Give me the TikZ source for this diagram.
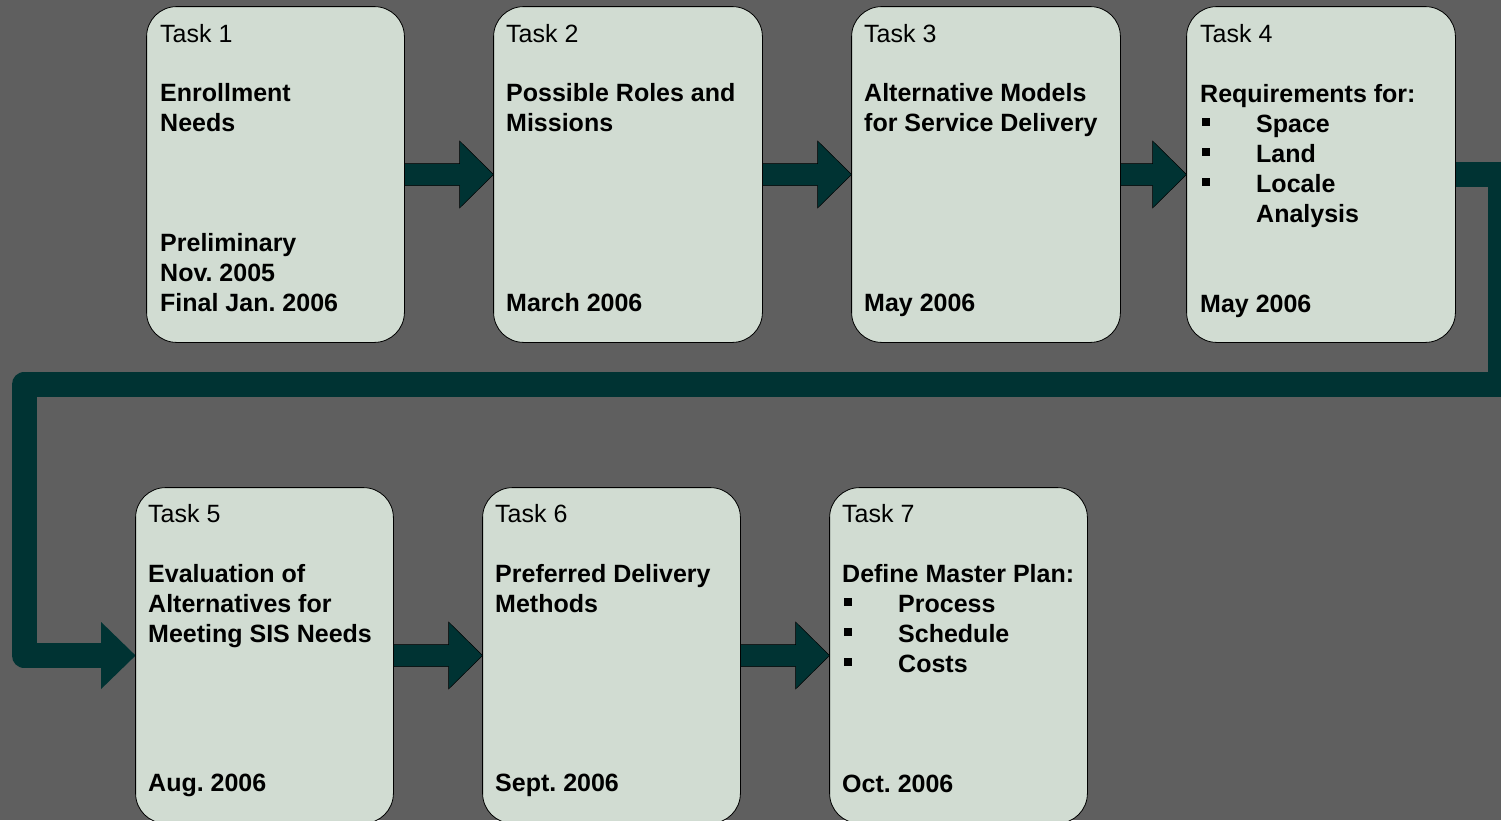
\documentclass[tikz,border=0pt]{standalone}
\usepackage{fontspec}
\setmainfont{Liberation Sans}
\usetikzlibrary{calc}
\definecolor{bgc}{HTML}{5F5F5F}
\definecolor{boxc}{HTML}{D1DCD2}
\definecolor{arrc}{HTML}{003333}
\frenchspacing
\begin{document}
\begin{tikzpicture}[x=1pt,y=-1pt,
  taskbox/.style={draw=black,line width=0.8pt,fill=boxc,rounded corners=30pt,minimum width=257pt,minimum height=335pt,inner sep=0pt},
  taskbox2/.style={taskbox,minimum width=268pt},
  lbl/.style={anchor=base west,inner sep=0pt,font=\fontsize{25}{30}\selectfont\frenchspacing},
  bd/.style={anchor=base west,inner sep=0pt,font=\fontsize{25}{30}\selectfont\bfseries\frenchspacing},
  arr/.style={fill=arrc,draw=black,line width=0.5pt},
  conn/.style={draw=arrc,line width=25pt,line join=round}]
\fill[bgc] (0,0) rectangle (1501,820);
\useasboundingbox (0,0) rectangle (1501,820);
% boxes (named, drawn later on top)
\path node[taskbox] (t1) at (275.5,174.5) {}
      node[taskbox2] (t2) at (628,174.5) {}
      node[taskbox2] (t3) at (986,174.5) {}
      node[taskbox2] (t4) at (1321,174.5) {}
      node[taskbox] (t5) at (264.5,655.5) {}
      node[taskbox] (t6) at (611.5,655.5) {}
      node[taskbox] (t7) at (958.5,655.5) {};
% connector from Task 4 to Task 5
\draw[conn] (t4.east) -- (1500.5,174.5) -- (1500.5,384.5) -- (24,384.5) -- (24,655.5) -- ($(t5.west)+(-34,0)$);
\fill[arrc] ($(t5.west)+(-34.5,-33.5)$) -- (t5.west) -- ($(t5.west)+(-34.5,33.5)$) -- cycle;
% row arrows
\foreach \a/\b in {t1/t2,t2/t3,t3/t4,t5/t6,t6/t7}{
  \draw[arr] ($(\a.east)+(0,-11)$) -- ($(\b.west)+(-34,-11)$) -- ($(\b.west)+(-34,-33.5)$) -- (\b.west)
    -- ($(\b.west)+(-34,33.5)$) -- ($(\b.west)+(-34,11)$) -- ($(\a.east)+(0,11)$) -- cycle;
}
% boxes on top
\foreach \n in {t1,t2,t3,t4,t5,t6,t7}{
  \draw[line width=0.8pt,fill=boxc,rounded corners=30pt] (\n.north west) rectangle (\n.south east);
}
% Task 1
\node[lbl] (l1) at (160,42) {Task 1};
\node[bd] (l1a) at (160,101) {Enrollment};
\node[bd] (l1b) at (160,131) {Needs};
\node[bd] (l1c) at (160,251) {Preliminary};
\node[bd] (l1d) at (160,281) {Nov. 2005};
\node[bd] (l1e) at (160,311) {Final Jan. 2006};
% Task 2
\node[lbl] (l2) at (506,42) {Task 2};
\node[bd] (l2a) at (506,101) {Possible Roles and};
\node[bd] (l2b) at (506,131) {Missions};
\node[bd] (l2c) at (506,311) {March 2006};
% Task 3
\node[lbl] (l3) at (864,42) {Task 3};
\node[bd] (l3a) at (864,101) {Alternative Models};
\node[bd] (l3b) at (864,131) {for Service Delivery};
\node[bd] (l3c) at (864,311) {May 2006};
% Task 4
\node[lbl] (l4) at (1200,42) {Task 4};
\node[bd] (l4a) at (1200,102) {Requirements for:};
\node[bd] (l4b) at (1256,132) {Space};
\node[bd] (l4c) at (1256,162) {Land};
\node[bd] (l4d) at (1256,192) {Locale};
\node[bd] (l4e) at (1256,222) {Analysis};
\node[bd] (l4f) at (1200,312) {May 2006};
\foreach \n in {l4b,l4c,l4d}{\fill ($(\n.base west)+(-54,-14)$) rectangle ++(8,8);}
% Task 5
\node[lbl] (l5) at (148,522) {Task 5};
\node[bd] (l5a) at (148,582) {Evaluation of};
\node[bd] (l5b) at (148,612) {Alternatives for};
\node[bd] (l5c) at (148,642) {Meeting SIS Needs};
\node[bd] (l5d) at (148,791) {Aug. 2006};
% Task 6
\node[lbl] (l6) at (495,522) {Task 6};
\node[bd] (l6a) at (495,582) {Preferred Delivery};
\node[bd] (l6b) at (495,612) {Methods};
\node[bd] (l6c) at (495,791) {Sept. 2006};
% Task 7
\node[lbl] (l7) at (842,522) {Task 7};
\node[bd] (l7a) at (842,582) {Define Master Plan:};
\node[bd] (l7b) at (898,612) {Process};
\node[bd] (l7c) at (898,642) {Schedule};
\node[bd] (l7d) at (898,672) {Costs};
\node[bd] (l7e) at (842,792) {Oct. 2006};
\foreach \n in {l7b,l7c,l7d}{\fill ($(\n.base west)+(-54,-14)$) rectangle ++(8,8);}
\end{tikzpicture}
\end{document}
